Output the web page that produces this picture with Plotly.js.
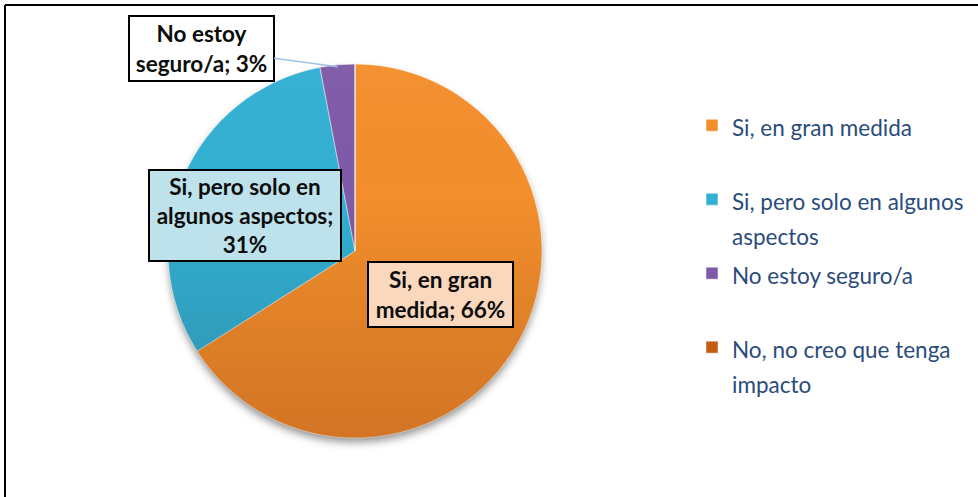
<!DOCTYPE html>
<html>
<head>
<meta charset="utf-8">
<script src="https://cdn.plot.ly/plotly-3.0.1.min.js"></script>
<style>
  html, body { margin: 0; padding: 0; background: #ffffff; }
  #chart { width: 978px; height: 497px; }
</style>
</head>
<body>
<div id="chart"></div>
<script>
// ---- data ----
const categories = [
  "Si, en gran medida",
  "Si, pero solo en algunos aspectos",
  "No estoy seguro/a",
  "No, no creo que tenga impacto"
];
const values = [66, 31, 3, 0];
const sliceColors = ["#F48E2C", "#33B0D3", "#7F5AA8", "#C55A11"];

// ---- layout geometry (pixels) ----
const W = 978, H = 497;
const CX = 355, CY = 251, R = 187;
const FONT = "Lato, 'Open Sans', sans-serif";

function wrap(text, maxChars) {
  const words = text.split(" ");
  const lines = [];
  let cur = "";
  words.forEach(w => {
    const cand = cur ? cur + " " + w : w;
    if (cand.length > maxChars && cur) { lines.push(cur); cur = w; }
    else cur = cand;
  });
  if (cur) lines.push(cur);
  return lines;
}

// legend labels: visible glyphs at 22.5px, line pitch driven by legend font size
const legendLabels = categories.map(c => {
  const lines = wrap(c, 24).map(l => "<span style='font-size:22.5px'>" + l + "</span>");
  while (lines.length < 2) lines.push("&nbsp;");
  return lines.join("<br>");
});

const px2x = p => p / W;
const py2y = p => 1 - p / H;

const pie = {
  type: "pie",
  labels: legendLabels,
  values: values,
  sort: false,
  direction: "clockwise",
  rotation: 0,
  textinfo: "none",
  hoverinfo: "none",
  marker: { colors: sliceColors, line: { color: "#ffffff", width: 0.5 } },
  domain: { x: [px2x(CX - R), px2x(CX + R)], y: [py2y(CY + R), py2y(CY - R)] }
};

// data label boxes
const boxes = [
  { i: 0, cx: 440.5, cy: 294.5, w: 147, h: 67, bg: "#F9D8BD", wrapChars: 12 },
  { i: 1, cx: 245, cy: 215.5, w: 194, h: 93, bg: "#BEE2EC", wrapChars: 17 },
  { i: 2, cx: 201.5, cy: 48.5, w: 147, h: 67, bg: "#FFFFFF", wrapChars: 12, leader: true }
];
const total = values.reduce((a, b) => a + b, 0);
const annotations = boxes.map(b => {
  const txt = wrap(categories[b.i] + "; " + values[b.i] + "%", b.wrapChars).join("<br>");
  const a = {
    xref: "paper", yref: "paper",
    text: txt,
    font: { family: FONT, size: 22.5, color: "#0d0d0d", weight: "bold" },
    bgcolor: b.bg, bordercolor: "#000000", borderwidth: 2, borderpad: 2,
    width: b.w - 8, height: b.h - 8,
    align: "center", valign: "middle",
    xanchor: "center", yanchor: "middle",
    showarrow: false
  };
  if (b.leader) {
    const before = values.slice(0, b.i).reduce((s, v) => s + v, 0);
    const th = 2 * Math.PI * (before + values[b.i] / 2) / total;
    const tx = CX + R * 0.99 * Math.sin(th);
    const ty = CY - R * 0.99 * Math.cos(th);
    a.x = px2x(tx); a.y = py2y(ty);
    a.showarrow = true; a.arrowhead = 0; a.arrowwidth = 1.5; a.arrowcolor = "#9DC3E6";
    a.ax = b.cx - tx; a.ay = b.cy - ty;
    a.standoff = 0;
  } else {
    a.x = px2x(b.cx); a.y = py2y(b.cy);
  }
  return a;
});

const shadowSvg = "<svg xmlns='http://www.w3.org/2000/svg' width='420' height='420'>" +
  "<defs><filter id='b' x='-20%' y='-20%' width='140%' height='140%'><feGaussianBlur stdDeviation='4'/></filter></defs>" +
  "<circle cx='210' cy='215' r='186' fill='rgba(0,0,0,0.45)' filter='url(#b)'/></svg>";
const shadeSvg = "<svg xmlns='http://www.w3.org/2000/svg' width='374' height='374'>" +
  "<defs><linearGradient id='g' x1='0' y1='0' x2='0' y2='1'>" +
  "<stop offset='0' stop-color='#ffffff' stop-opacity='0.03'/>" +
  "<stop offset='0.35' stop-color='#000000' stop-opacity='0'/>" +
  "<stop offset='1' stop-color='#3a0000' stop-opacity='0.18'/></linearGradient></defs>" +
  "<circle cx='187' cy='187' r='187' fill='url(#g)'/></svg>";
const uri = s => "data:image/svg+xml;charset=utf-8," + encodeURIComponent(s);

const layout = {
  width: W, height: H,
  margin: { l: 0, r: 0, t: 0, b: 0 },
  paper_bgcolor: "#ffffff",
  showlegend: true,
  legend: {
    x: px2x(692), y: py2y(101), xanchor: "left", yanchor: "top",
    valign: "top",
    font: { family: FONT, size: 27.3, color: "#2A4B7C" },
    bgcolor: "rgba(0,0,0,0)", traceorder: "normal"
  },
  annotations: annotations,
  images: [
    { source: uri(shadowSvg), xref: "paper", yref: "paper", layer: "below",
      x: px2x(CX - 210), y: py2y(CY - 210), sizex: 420 / W, sizey: 420 / H,
      xanchor: "left", yanchor: "top", sizing: "stretch" },
    { source: uri(shadeSvg), xref: "paper", yref: "paper", layer: "above",
      x: px2x(CX - R), y: py2y(CY - R), sizex: 2 * R / W, sizey: 2 * R / H,
      xanchor: "left", yanchor: "top", sizing: "stretch" }
  ],
  shapes: [
    { type: "line", xref: "paper", yref: "paper", x0: px2x(5), x1: px2x(5), y0: -0.05, y1: py2y(5),
      line: { color: "#000000", width: 2 } },
    { type: "line", xref: "paper", yref: "paper", x0: px2x(5), x1: 1.02, y0: py2y(5), y1: py2y(5),
      line: { color: "#000000", width: 2 } }
  ]
};

Plotly.newPlot("chart", [pie], layout, { displayModeBar: false, staticPlot: true });
</script>
</body>
</html>
